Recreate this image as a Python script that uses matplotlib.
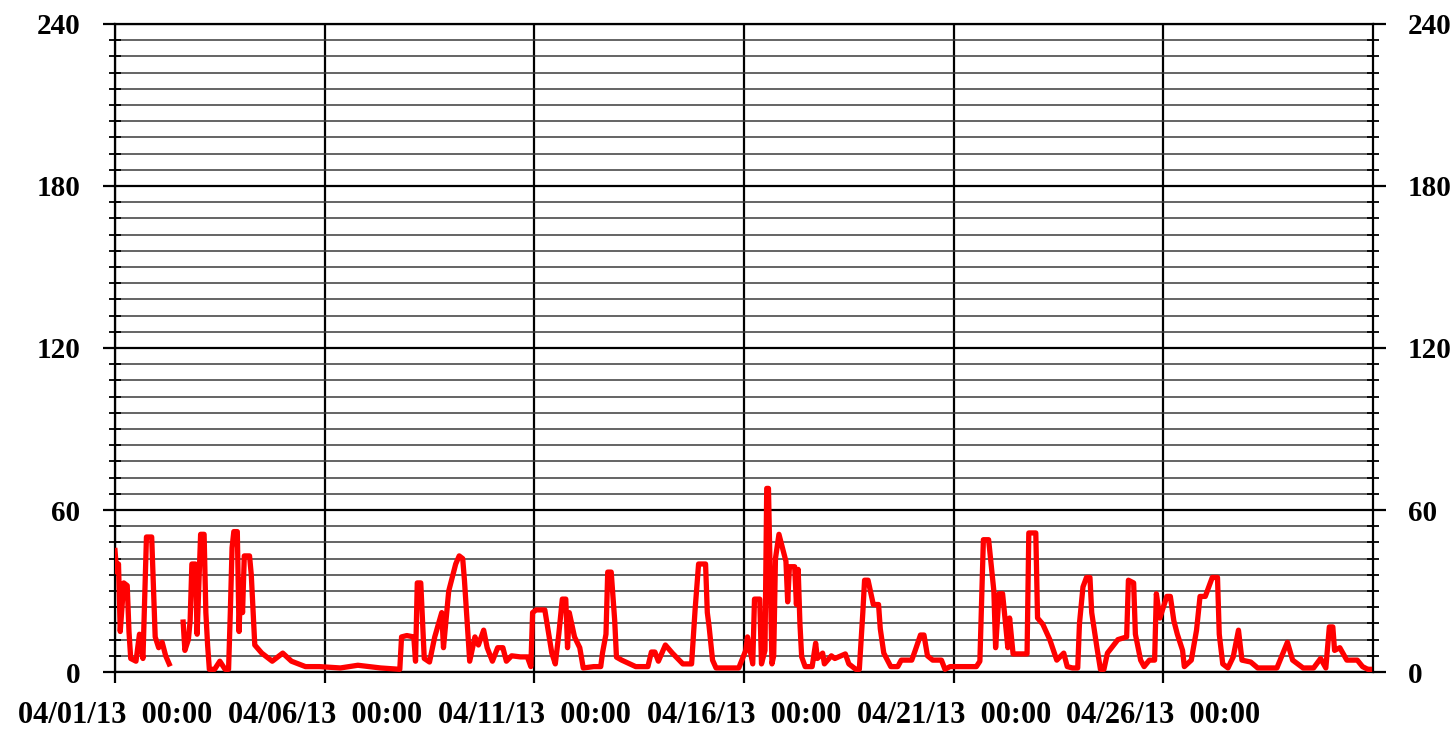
import numpy as np
import pandas as pd
import matplotlib
matplotlib.use('Agg')
import matplotlib.pyplot as plt
import matplotlib.dates as mdates
from matplotlib.ticker import MultipleLocator

plt.rcParams['font.family'] = ['Liberation Serif', 'DejaVu Serif']
plt.rcParams['font.weight'] = 'bold'

# 数据：从 04/01/13 00:00 起的小时数，以及对应数值
START = '2013-04-01 00:00'
END = '2013-05-01 00:00'
tick_days = ['2013-04-01', '2013-04-06', '2013-04-11', '2013-04-16', '2013-04-21', '2013-04-26']

hours = [
    0, 1, 2, 3, 5, 7, 8, 9, 12, 14, 16, 18, 21, 23, 25, 27, 29, 31, 35,
    39, 40, 42, 43, 44, 46, 47, 49, 51, 52, 53, 54, 57, 60, 63, 65, 66, 67, 68, 70,
    71, 72, 73, 74, 77, 78, 80, 84, 90, 96, 101, 109, 117, 129, 139, 152, 163,
    164, 167, 171, 172, 173, 175, 177, 180, 183, 187, 188, 191, 195, 197, 199, 200,
    203, 206, 208, 211, 213, 216, 219, 222, 224, 227, 232, 236, 238,
    239, 241, 246, 250, 252, 254, 256, 258, 259, 260, 263, 266, 268, 274, 278, 279,
    281, 282, 284, 286, 287, 290, 298, 305, 307, 309, 311, 315, 319, 322, 325, 330,
    332, 334, 338, 339, 340, 342, 344, 357,
    361, 362, 365, 366, 369, 370, 372, 373, 374, 376, 377, 378, 380, 384, 385, 386,
    389, 390, 391, 392, 393, 395, 399, 401, 402, 405, 406, 410, 412, 418, 420, 424,
    426, 428, 429, 431, 434, 437, 438, 440, 444, 448, 450, 456, 458, 461, 463, 465,
    468, 473, 475, 478, 493,
    495, 497, 500, 503, 504, 506, 508, 511, 512, 514, 522, 523, 527, 528, 531, 535,
    539, 543, 545, 548, 551, 552, 554, 556, 558, 559, 562, 564, 566, 568, 574, 579,
    580, 583, 584, 587, 589, 592, 595, 596, 598,
    602, 604, 606, 608, 611, 612, 616, 619, 621, 624, 628, 631, 632, 634, 637, 640,
    643, 645, 650, 654, 665, 671, 674, 680, 686, 690, 693, 695, 697, 698, 701, 705,
    711, 714, 717, 718,
]

values = [
    45, 37, 40, 15, 33, 32, 15, 5, 4, 14, 5, 50, 50, 13, 9, 11, 6, 3, np.nan,
    18.5, 8, 12, 19, 40, 40, 14, 51, 51, 22, 10, 1, 1, 4, 1, 1, 22, 46, 52, 52,
    15, 34, 22, 43, 43, 36, 10, 7, 4, 7, 4, 2, 2, 1.5, 2.5, 1.5, 1,
    13, 13.5, 13, 4, 33, 33, 5, 3.7, 13, 22, 9, 30, 40, 43, 42, 34,
    4, 13, 10, 15.5, 9, 4, 9, 9, 4, 6, 5.6, 5.6, 2,
    22, 23, 23, 7, 3, 14, 27, 27, 9, 22, 13, 9, 1.5, 2, 2, 7,
    14, 37, 37, 19, 5.5, 4.4, 2, 2, 7.4, 7.4, 4, 10, 7, 5, 3, 3,
    23, 40, 40, 22, 17, 4.4, 1.5, 1.5,
    8, 13, 3, 27, 27, 3, 8, 68, 68, 3, 6, 42, 51, 41, 26, 39,
    39, 25, 38, 18, 5.6, 2, 2, 10.7, 5, 7, 3, 6, 5, 6.7, 3, 1,
    1, 22, 34, 34, 25, 25, 16, 7, 2, 2, 4.4, 4.4, 8, 13.7, 13.7, 6,
    4.4, 4.4, 1, 2, 2,
    4, 49, 49, 30, 9, 29, 29, 9, 20, 6.7, 6.7, 51.5, 51.5, 20, 17.7, 12,
    4.4, 7, 2, 1.5, 1.5, 18, 31.5, 35, 35, 22, 9, 1, 1, 7, 12, 13,
    34, 33, 14, 4.4, 2, 4.4, 4.4, 29, 20,
    28, 28, 19, 14, 8, 2, 4.4, 15.5, 28, 28, 35, 35, 14, 3, 1.5, 5.6,
    15.5, 4.4, 3.7, 1.5, 1.5, 11, 4.4, 1.5, 1.5, 5, 1.5, 16.7, 16.7, 8, 9, 4.4,
    4.4, 2, 1, 1,
]

y_ticks = [0, 60, 120, 180, 240]


def load_data() -> pd.Series:
    times = pd.Timestamp(START) + pd.to_timedelta(hours, unit='h')
    return pd.Series(values, index=times)


def style_axis(ax: plt.Axes):
    ax.set_ylim(0, 240)
    ax.set_xlim(pd.Timestamp(START), pd.Timestamp(END))

    ax.set_xticks(pd.to_datetime(tick_days))
    ax.xaxis.set_major_formatter(mdates.DateFormatter('%m/%d/%y  %H:%M'))
    ax.set_yticks(y_ticks)
    ax.yaxis.set_minor_locator(MultipleLocator(6))

    ax.grid(True, which='major', axis='both', color='black', linewidth=1.6)
    ax.grid(True, which='minor', axis='y', color='#3a3a3a', linewidth=1.1)
    ax.set_axisbelow(True)

    for s in ax.spines.values():
        s.set_color('black')
        s.set_linewidth(1.6)

    ax.tick_params(axis='y', which='major', direction='out', length=9, width=1.6,
                   labelsize=21, pad=16, right=True, labelright=True)
    ax.tick_params(axis='y', which='minor', direction='inout', length=8, width=1.3,
                   right=True)
    ax.tick_params(axis='x', which='major', direction='out', length=8, width=1.6,
                   labelsize=22, pad=13)


def main():
    data = load_data()

    fig = plt.figure(figsize=(14.52, 7.31), dpi=100)
    ax = fig.add_axes([0.0792, 0.0807, 0.8664, 0.8865])

    ax.plot(data.index, data.values, color='#ff0000', linewidth=3.8, zorder=3)
    style_axis(ax)

    for lab in ax.get_xticklabels() + ax.get_yticklabels():
        lab.set_fontweight('bold')

    fig.savefig('out.png', dpi=100)


if __name__ == '__main__':
    main()
